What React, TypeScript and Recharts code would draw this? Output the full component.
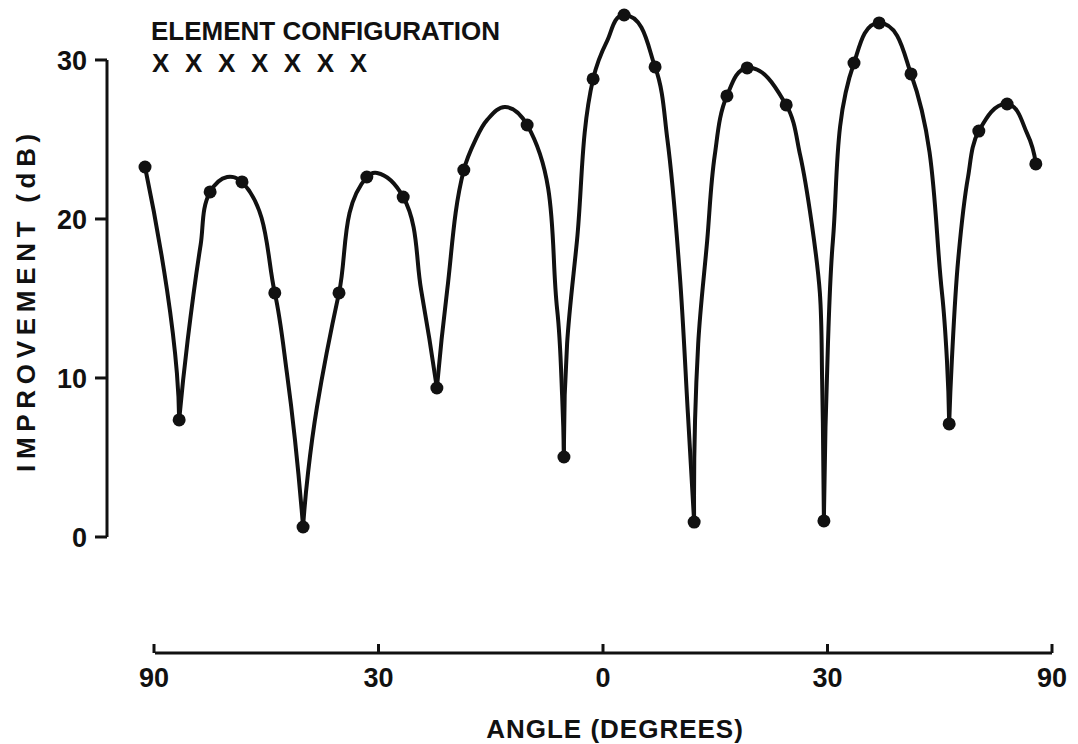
import React from 'react';
import { ComposedChart, Line, Scatter, XAxis, YAxis } from 'recharts';

// horizontal position is sin(angle): -1 = 90 deg on the left, 0 = broadside, 1 = 90 deg on the right
const angleTicks = [-1, -0.5, 0, 0.5, 1];
const angleTickLabels = ['90', '30', '0', '30', '90'];
const dbTicks = [0, 10, 20, 30];

// measured points (the dots)
const measuredSin = [
  -1.02, -0.944, -0.875, -0.804, -0.731, -0.668, -0.588, -0.526, -0.445, -0.37,
  -0.31, -0.169, -0.087, -0.022, 0.047, 0.116, 0.203, 0.276, 0.321, 0.408,
  0.492, 0.559, 0.615, 0.686, 0.771, 0.837, 0.9, 0.964,
];
const measuredDb = [
  23.27, 7.36, 21.7, 22.33, 15.35, 0.63, 15.35, 22.64, 21.38, 9.37,
  23.08, 25.91, 5.03, 28.81, 32.83, 29.56, 0.94, 27.74, 29.5, 27.17,
  1.01, 29.81, 32.33, 29.12, 7.11, 25.53, 27.23, 23.46,
];

// hand drawn curve, one list per lobe (null to null), [sin, dB]
const lobe1 = [[-1.02, 23.27], [-0.971, 15.53], [-0.949, 10.31], [-0.944, 7.36]];
const lobe2 = [[-0.944, 7.36], [-0.925, 12.39], [-0.896, 18.4], [-0.875, 21.7], [-0.837, 22.64], [-0.804, 22.33], [-0.731, 15.35], [-0.704, 10.31], [-0.686, 6.1], [-0.668, 0.63]];
const lobe3 = [[-0.668, 0.63], [-0.657, 4.03], [-0.637, 8.18], [-0.588, 15.35], [-0.526, 22.64], [-0.503, 22.89], [-0.445, 21.38], [-0.405, 15.53], [-0.37, 9.37]];
const lobe4 = [[-0.37, 9.37], [-0.347, 15.53], [-0.31, 23.08], [-0.285, 24.91], [-0.258, 26.23], [-0.218, 27.04], [-0.169, 25.91], [-0.102, 14.28], [-0.091, 8.87], [-0.087, 5.03]];
const lobe5 = [[-0.087, 5.03], [-0.08, 12.14], [-0.058, 18.62], [-0.022, 28.81], [0.009, 31.19], [0.047, 32.83], [0.116, 29.56], [0.143, 25.09], [0.171, 16.48], [0.189, 7.8], [0.203, 0.94]];
const lobe6 = [[0.203, 0.94], [0.212, 12.14], [0.232, 18.62], [0.249, 24.03], [0.276, 27.74], [0.321, 29.5], [0.408, 27.17], [0.439, 24.03], [0.465, 19.69], [0.483, 15.35], [0.488, 9.94], [0.492, 1.01]];
const lobe7 = [[0.492, 1.01], [0.501, 12.14], [0.512, 18.62], [0.559, 29.81], [0.615, 32.33], [0.686, 29.12], [0.755, 15.35], [0.766, 11.13], [0.771, 7.11]];
const lobe8 = [[0.771, 7.11], [0.777, 11.13], [0.791, 17.42], [0.813, 22.64], [0.837, 25.53], [0.9, 27.23], [0.944, 25.41], [0.964, 23.46]];

const lobes = [lobe1, lobe2, lobe3, lobe4, lobe5, lobe6, lobe7, lobe8];

const FONT = '"Liberation Sans", Arial, sans-serif';
const INK = '#111';

// plot box is 107..1070 x 4..653, domains chosen so the axes land where the figure has them
const PLOT_H = 649;
const X_DOMAIN: [number, number] = [-1.1047, 1.0401];
const Y_DOMAIN: [number, number] = [-7.296, 33.52];
const PX_PER_DB = PLOT_H / (Y_DOMAIN[1] - Y_DOMAIN[0]);
// the original's axis rules are shorter than the plot box: x rule spans 90..90 deg, y rule 0..30 dB
const X_RULE_DASH = '0 48 897 2000';
const Y_RULE_DASH = `0 ${(Y_DOMAIN[1] - 30) * PX_PER_DB} ${30 * PX_PER_DB} 2000`;

const dots = measuredSin.map((x, i) => ({ x, y: measuredDb[i] }));
const curves = lobes.map((lobe) => lobe.map(([x, y]) => ({ x, y })));

type Pt = [number, number];

const unit = (a: Pt, b: Pt): Pt => {
  const dx = b[0] - a[0];
  const dy = b[1] - a[1];
  const l = Math.hypot(dx, dy) || 1;
  return [dx / l, dy / l];
};

const mirror = (c: Pt, t: Pt): Pt => {
  const d = c[0] * t[0] + c[1] * t[1];
  return [2 * d * c[0] - t[0], 2 * d * c[1] - t[1]];
};

// d3 style curve factory: goes through every point, tangent = bisector of the two chords,
// end tangents mirrored from their neighbour so two lobes meet in a sharp cusp at the null
const smoothLobe = (context: any) => {
  let pts: Pt[] = [];
  return {
    areaStart() {},
    areaEnd() {},
    lineStart() {
      pts = [];
    },
    point(x: number, y: number) {
      pts.push([+x, +y]);
    },
    lineEnd() {
      const n = pts.length;
      if (n === 0) return;
      context.moveTo(pts[0][0], pts[0][1]);
      if (n < 3) {
        if (n === 2) context.lineTo(pts[1][0], pts[1][1]);
        return;
      }
      const dirs: Pt[] = pts.map((p, i) => {
        if (i === 0 || i === n - 1) return [0, 0];
        const a = unit(pts[i - 1], p);
        const b = unit(p, pts[i + 1]);
        return unit([0, 0], [a[0] + b[0], a[1] + b[1]]);
      });
      dirs[0] = mirror(unit(pts[0], pts[1]), dirs[1]);
      dirs[n - 1] = mirror(unit(pts[n - 2], pts[n - 1]), dirs[n - 2]);
      for (let i = 0; i < n - 1; i++) {
        const p = pts[i];
        const q = pts[i + 1];
        const k = Math.hypot(q[0] - p[0], q[1] - p[1]) / 3;
        context.bezierCurveTo(
          p[0] + dirs[i][0] * k,
          p[1] + dirs[i][1] * k,
          q[0] - dirs[i + 1][0] * k,
          q[1] - dirs[i + 1][1] * k,
          q[0],
          q[1],
        );
      }
    },
  };
};

function AngleTick(props: any) {
  const { x, y, payload } = props;
  const label = angleTickLabels[angleTicks.indexOf(payload.value)];
  return (
    <g>
      <line x1={x} x2={x} y1={y} y2={y - 9} stroke={INK} strokeWidth={3} />
      <text x={x} y={y + 34} textAnchor="middle" fontFamily={FONT} fontWeight="bold" fontSize={27} fill={INK}>
        {label}
      </text>
    </g>
  );
}

const DotMark = (p: any) => <circle cx={p.cx} cy={p.cy} r={6.5} fill={INK} />;

export default function App() {
  return (
    <div style={{ position: 'absolute', left: 0, top: 0, width: 1078, height: 744, background: '#fff' }}>
      <ComposedChart width={1078} height={744} margin={{ top: 4, right: 8, bottom: 31, left: 47 }}>
        <XAxis
          type="number"
          dataKey="x"
          domain={X_DOMAIN}
          ticks={angleTicks}
          interval={0}
          allowDataOverflow
          height={60}
          axisLine={{ stroke: INK, strokeWidth: 3, strokeDasharray: X_RULE_DASH }}
          tickLine={false}
          tickSize={0}
          tickMargin={0}
          tick={<AngleTick />}
          label={() => (
            <text x={615} y={738} textAnchor="middle" fontFamily={FONT} fontWeight="bold" fontSize={26} letterSpacing={1} fill={INK}>
              ANGLE (DEGREES)
            </text>
          )}
        />
        <YAxis
          type="number"
          dataKey="y"
          domain={Y_DOMAIN}
          ticks={dbTicks}
          interval={0}
          allowDataOverflow
          width={60}
          axisLine={{ stroke: INK, strokeWidth: 3, strokeDasharray: Y_RULE_DASH }}
          tickLine={{ stroke: INK, strokeWidth: 3 }}
          tickSize={12}
          tickMargin={8}
          tick={{ fill: INK, fontSize: 27, fontWeight: 'bold', fontFamily: FONT }}
          label={() => (
            <text x={35} y={300} transform="rotate(-90 35 300)" textAnchor="middle" fontFamily={FONT} fontWeight="bold" fontSize={26} letterSpacing={5.7} fill={INK}>
              IMPROVEMENT (dB)
            </text>
          )}
        />
        {curves.map((data, i) => (
          <Line
            key={i}
            data={data}
            dataKey="y"
            type={smoothLobe as any}
            stroke={INK}
            strokeWidth={4}
            dot={false}
            activeDot={false}
            isAnimationActive={false}
          />
        ))}
        <Scatter data={dots} dataKey="y" shape={DotMark} isAnimationActive={false} />
      </ComposedChart>
      <svg width={1078} height={100} style={{ position: 'absolute', left: 0, top: 0, pointerEvents: 'none' }}>
        <text x={151} y={40} fontFamily={FONT} fontWeight="bold" fontSize={26} fill={INK}>
          ELEMENT CONFIGURATION
        </text>
        <text x={152} y={72} fontFamily={FONT} fontWeight="bold" fontSize={26} letterSpacing={4.2} fill={INK}>
          X X X X X X X
        </text>
      </svg>
    </div>
  );
}
